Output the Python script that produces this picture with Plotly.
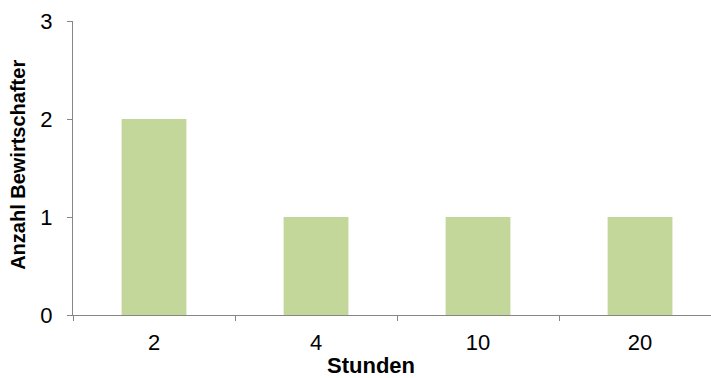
import plotly.graph_objects as go

# Working hours per week and number of farm managers
stunden = ["2", "4", "10", "20"]
anzahl = [2, 1, 1, 1]
y_ticks = [0, 1, 2, 3]

bar_color = "#C4D79B"
axis_color = "#868686"
font_family = "Liberation Sans, Arial, sans-serif"

fig = go.Figure(
    go.Bar(
        x=stunden,
        y=anzahl,
        width=0.4,
        marker=dict(color=bar_color, line=dict(width=0)),
    )
)

fig.update_layout(
    width=711,
    height=378,
    margin=dict(l=73, r=0, t=21, b=63),
    paper_bgcolor="white",
    plot_bgcolor="white",
    showlegend=False,
    font=dict(family=font_family, size=22, color="black"),
    bargap=0.6,
)

fig.update_xaxes(
    type="category",
    range=[-0.5, 3.438],
    tickson="boundaries",
    ticks="outside",
    ticklen=5,
    tickwidth=1,
    tickcolor=axis_color,
    showline=True,
    linecolor=axis_color,
    linewidth=1,
    showgrid=False,
    zeroline=False,
    ticklabelstandoff=8,
    tickfont=dict(size=22),
)

fig.update_yaxes(
    range=[0, 3],
    tickvals=y_ticks,
    ticktext=[str(v) for v in y_ticks],
    ticks="outside",
    ticklen=5,
    tickwidth=1,
    tickcolor=axis_color,
    showline=True,
    linecolor=axis_color,
    linewidth=1,
    showgrid=False,
    zeroline=False,
    ticklabelstandoff=10,
    tickfont=dict(size=22),
)

# Axis titles
fig.add_annotation(
    text="<b>Stunden</b>",
    xref="paper", yref="paper",
    x=0.467, y=-0.172,
    xanchor="center", yanchor="middle",
    showarrow=False,
    font=dict(size=22, family=font_family, color="black"),
)
fig.add_annotation(
    text="<b>Anzahl Bewirtschafter</b>",
    xref="paper", yref="paper",
    x=-0.0865, y=0.51,
    xanchor="center", yanchor="middle",
    textangle=-90,
    showarrow=False,
    font=dict(size=20, family=font_family, color="black"),
)

fig.write_html("out.html")
